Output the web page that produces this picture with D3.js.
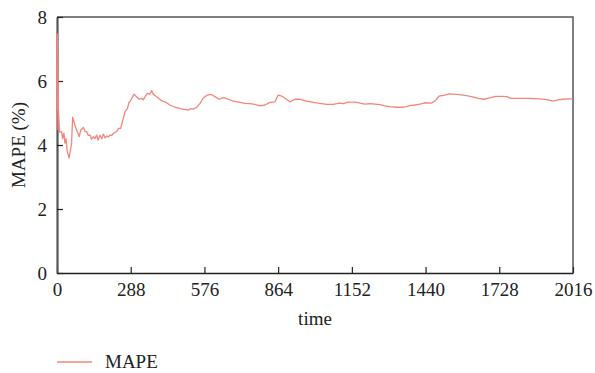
<!DOCTYPE html>
<html>
<head>
<meta charset="utf-8">
<script src="https://cdn.jsdelivr.net/npm/d3@7"></script>
<style>
  body { margin: 0; background: #fff; }
</style>
</head>
<body>
<script>
// values (time step, MAPE %)
let times = [0, 1, 5, 10, 18, 22, 27, 31, 35, 40, 47, 54, 57, 61, 70, 79, 87, 93, 103, 110, 116, 122, 129, 135, 142, 148, 155, 160, 168, 175, 181, 188, 194, 200, 207, 214, 220, 233, 240, 249, 257, 266, 275, 282,
  285, 301, 311, 321, 331, 337, 344, 353, 363, 370, 376, 389, 409, 422, 441, 461, 487, 513, 523, 532, 546, 559, 571, 587, 604, 617, 634, 650, 669, 689, 715, 734, 754, 773, 793, 813, 832, 852,
  864, 878, 891, 910, 930, 949, 975, 1001, 1027, 1054, 1079, 1093, 1105, 1118, 1138, 1164, 1184, 1203, 1223, 1242, 1262, 1281, 1301, 1327, 1346, 1366, 1379, 1398, 1418, 1437, 1464, 1477,
  1493, 1509, 1519, 1532, 1561, 1594, 1620, 1646, 1668, 1691, 1715, 1741, 1757, 1772, 1809, 1848, 1887, 1913, 1939, 1958, 1975, 2004, 2015];
let mape = [4.47, 7.47, 5.2, 4.4, 4.42, 4.2, 4.37, 4.06, 4.2, 3.8, 3.6, 3.9, 4.06, 4.87, 4.62, 4.42, 4.26, 4.47, 4.55, 4.42, 4.42, 4.3, 4.31, 4.18, 4.26, 4.2, 4.31, 4.15, 4.3, 4.2, 4.34, 4.22, 4.28, 4.25, 4.31, 4.3, 4.36, 4.42, 4.52, 4.52, 4.78, 5.04, 5.14, 5.35,
  5.35, 5.59, 5.51, 5.43, 5.46, 5.41, 5.51, 5.61, 5.59, 5.7, 5.59, 5.51, 5.38, 5.35, 5.25, 5.18, 5.13, 5.09, 5.14, 5.12, 5.18, 5.3, 5.46, 5.56, 5.58, 5.51, 5.43, 5.48, 5.43, 5.37, 5.33, 5.3, 5.29, 5.27, 5.22, 5.25, 5.33, 5.35,
  5.56, 5.53, 5.46, 5.35, 5.43, 5.43, 5.37, 5.33, 5.3, 5.27, 5.27, 5.29, 5.31, 5.29, 5.34, 5.34, 5.31, 5.28, 5.29, 5.28, 5.26, 5.22, 5.2, 5.18, 5.18, 5.2, 5.23, 5.25, 5.28, 5.32, 5.31, 5.38,
  5.53, 5.55, 5.57, 5.6, 5.58, 5.55, 5.51, 5.46, 5.43, 5.47, 5.52, 5.52, 5.51, 5.46, 5.46, 5.46, 5.44, 5.42, 5.37, 5.41, 5.43, 5.44, 5.44];
let xTicks = [0, 288, 576, 864, 1152, 1440, 1728, 2016];
let yTicks = [0, 2, 4, 6, 8];

let width = 595, height = 373;
let plotLeft = 57, plotRight = 573, plotTop = 17, plotBottom = 273;
let lineColor = '#f4857c', axisColor = '#555';
let serif = '"Liberation Serif", "Times New Roman", serif';

let svg = d3.select('body').append('svg').attr('width', width).attr('height', height);

let x = d3.scaleLinear().domain([0, 2016]).range([plotLeft, plotRight]);
let y = d3.scaleLinear().domain([0, 8]).range([plotBottom, plotTop]);

// frame top and right
svg.append('path')
    .attr('d', `M${plotLeft},${plotTop}H${plotRight}V${plotBottom}`)
    .attr('fill', 'none').attr('stroke', axisColor).attr('stroke-width', 1.5);

// x axis, ticks pointing in
let xAxis = svg.append('g').attr('transform', `translate(0,${plotBottom})`)
    .call(d3.axisBottom(x).tickValues(xTicks).tickFormat(d3.format('d'))
        .tickSizeInner(-6).tickSizeOuter(0).tickPadding(10));
xAxis.select('.domain').attr('stroke', '#222').attr('stroke-width', 1.5);
xAxis.selectAll('.tick line').attr('stroke', '#222').attr('stroke-width', 1.2);
xAxis.selectAll('text').style('font-size', '19px').style('font-family', serif).attr('fill', '#222');

let yAxis = svg.append('g').attr('transform', `translate(${plotLeft},0)`)
    .call(d3.axisLeft(y).tickValues(yTicks).tickFormat(d3.format('d'))
        .tickSizeInner(-6).tickSizeOuter(0).tickPadding(10));
yAxis.select('.domain').attr('stroke', axisColor).attr('stroke-width', 2.2);
yAxis.selectAll('.tick line').attr('stroke', '#222').attr('stroke-width', 1.2);
yAxis.selectAll('text').style('font-size', '19px').style('font-family', serif).attr('fill', '#222');

let points = times.map((t, i) => ({ t: t, v: mape[i] }));
let line = d3.line().x(d => x(d.t)).y(d => y(d.v));
svg.append('path')
    .attr('d', line(points))
    .attr('fill', 'none')
    .attr('stroke', lineColor)
    .attr('stroke-width', 1.3)
    .attr('stroke-linejoin', 'round');

// axis titles
svg.append('text').attr('x', (plotLeft + plotRight) / 2).attr('y', 325)
    .attr('text-anchor', 'middle').attr('fill', '#222')
    .style('font-family', serif).style('font-size', '19px').text('time');
svg.append('text').attr('transform', `translate(25,${(plotTop + plotBottom) / 2}) rotate(-90)`)
    .attr('text-anchor', 'middle').attr('fill', '#222')
    .style('font-family', serif).style('font-size', '19px').text('MAPE (%)');

// legend
svg.append('line').attr('x1', 57).attr('x2', 92).attr('y1', 362).attr('y2', 362)
    .attr('stroke', lineColor).attr('stroke-width', 1.6);
svg.append('text').attr('x', 105).attr('y', 368).attr('fill', '#222')
    .style('font-family', serif).style('font-size', '19px').text('MAPE');
</script>
</body>
</html>
